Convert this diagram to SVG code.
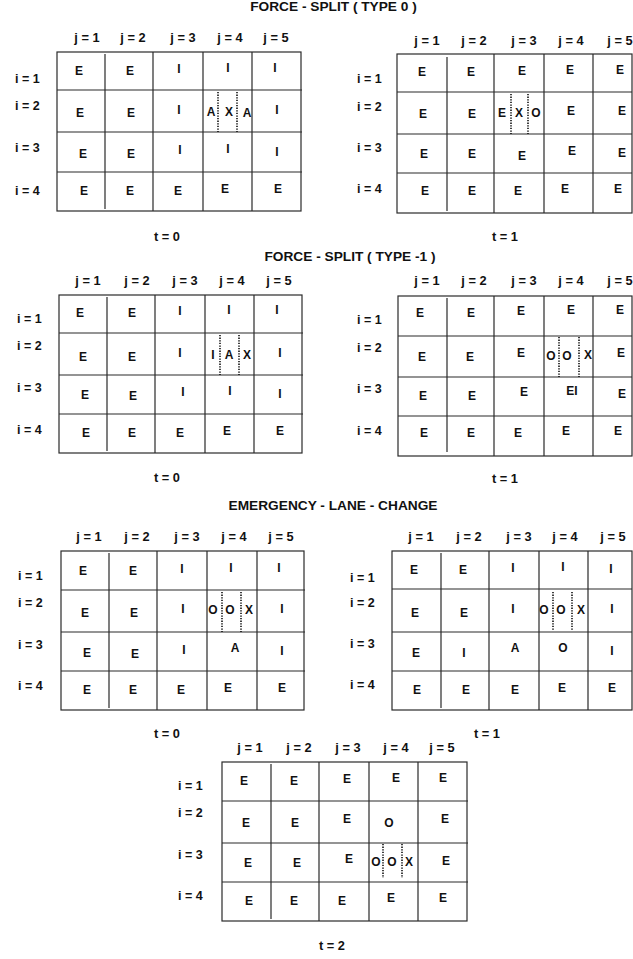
<svg xmlns="http://www.w3.org/2000/svg" width="633" height="959" viewBox="0 0 633 959">
<style>
.bg{fill:#fff}
.g{fill:none;stroke:#2a2a2a;stroke-width:1.2}
.d{stroke:#111;stroke-width:1.6;stroke-dasharray:1.3 1.3}
text{font-family:"Liberation Sans",Arial,Helvetica,sans-serif;font-weight:bold;fill:#111}
.c{font-size:12px;text-anchor:middle}
.h{font-size:12.8px;text-anchor:middle}
.r{font-size:12.5px}
.ti{font-size:13.7px;text-anchor:middle}
</style>
<rect class="bg" x="0" y="0" width="633" height="959"/>

<text class="ti" x="333.5" y="11">FORCE - SPLIT ( TYPE 0 )</text>
<text class="ti" x="350" y="261">FORCE - SPLIT ( TYPE -1 )</text>
<text class="ti" x="333" y="510">EMERGENCY - LANE - CHANGE</text>

<!-- Grid 1 -->
<g id="fs0-t0">
<rect class="g" x="57" y="52" width="244" height="159"/>
<path class="g" d="M57 90H302M57 132H302M57 172H302M105 54V209M153 52V211M203 52V211M252 52V211"/>
<path class="d" d="M218 92V132M237 92V132"/>
<text class="h" x="87" y="42">j = 1</text><text class="h" x="133" y="42">j = 2</text><text class="h" x="183" y="42">j = 3</text><text class="h" x="230" y="42">j = 4</text><text class="h" x="276" y="42">j = 5</text>
<text class="r" x="15" y="83">i = 1</text><text class="r" x="15" y="110">i = 2</text><text class="r" x="15" y="152">i = 3</text><text class="r" x="15" y="195">i = 4</text>
<text class="c" x="79" y="75">E</text><text class="c" x="130" y="75">E</text><text class="c" x="179" y="73">I</text><text class="c" x="228" y="72">I</text><text class="c" x="275" y="72">I</text>
<text class="c" x="80" y="117">E</text><text class="c" x="131" y="117">E</text><text class="c" x="179" y="114">I</text><text class="c" x="211" y="116">A</text><text class="c" x="229" y="116">X</text><text class="c" x="247" y="117">A</text><text class="c" x="277" y="114">I</text>
<text class="c" x="83" y="158">E</text><text class="c" x="131" y="158">E</text><text class="c" x="180" y="154">I</text><text class="c" x="228" y="153">I</text><text class="c" x="277" y="156">I</text>
<text class="c" x="84" y="195">E</text><text class="c" x="130" y="195">E</text><text class="c" x="178" y="195">E</text><text class="c" x="225" y="193">E</text><text class="c" x="278" y="193">E</text>
<text class="h" x="167" y="241">t = 0</text>
</g>

<!-- Grid 2 -->
<g id="fs0-t1">
<rect class="g" x="397" y="54" width="235" height="159"/>
<path class="g" d="M397 92H632M397 134H632M397 173H632M447 57V211M494 54V213M544 54V213M593 54V213"/>
<path class="d" d="M511 94V134M528 94V134"/>
<text class="h" x="427" y="45">j = 1</text><text class="h" x="474" y="45">j = 2</text><text class="h" x="524" y="45">j = 3</text><text class="h" x="571" y="45">j = 4</text><text class="h" x="620" y="45">j = 5</text>
<text class="r" x="357" y="83">i = 1</text><text class="r" x="357" y="111">i = 2</text><text class="r" x="357" y="152">i = 3</text><text class="r" x="357" y="193">i = 4</text>
<text class="c" x="422" y="76">E</text><text class="c" x="471" y="76">E</text><text class="c" x="522" y="75">E</text><text class="c" x="570" y="74">E</text><text class="c" x="620" y="74">E</text>
<text class="c" x="423" y="118">E</text><text class="c" x="472" y="118">E</text><text class="c" x="502" y="117">E</text><text class="c" x="519" y="117">X</text><text class="c" x="536" y="117">O</text><text class="c" x="571" y="115">E</text><text class="c" x="622" y="115">E</text>
<text class="c" x="424" y="158">E</text><text class="c" x="472" y="158">E</text><text class="c" x="522" y="160">E</text><text class="c" x="572" y="155">E</text><text class="c" x="622" y="157">E</text>
<text class="c" x="425" y="195">E</text><text class="c" x="472" y="195">E</text><text class="c" x="518" y="195">E</text><text class="c" x="565" y="193">E</text><text class="c" x="618" y="193">E</text>
<text class="h" x="505" y="241">t = 1</text>
</g>

<!-- Grid 3 -->
<g id="fsm1-t0">
<rect class="g" x="59" y="295" width="243" height="158"/>
<path class="g" d="M59 333H303M59 375H303M59 414H303M107 297V451M155 295V453M205 295V453M254 295V453"/>
<path class="d" d="M220 335V375M239 335V375"/>
<text class="h" x="88" y="285">j = 1</text><text class="h" x="137" y="285">j = 2</text><text class="h" x="185" y="285">j = 3</text><text class="h" x="232" y="285">j = 4</text><text class="h" x="279" y="285">j = 5</text>
<text class="r" x="17" y="323">i = 1</text><text class="r" x="17" y="350">i = 2</text><text class="r" x="17" y="392">i = 3</text><text class="r" x="17" y="434">i = 4</text>
<text class="c" x="80" y="317">E</text><text class="c" x="132" y="317">E</text><text class="c" x="180" y="315">I</text><text class="c" x="229" y="314">I</text><text class="c" x="277" y="314">I</text>
<text class="c" x="83" y="361">E</text><text class="c" x="132" y="361">E</text><text class="c" x="180" y="357">I</text><text class="c" x="213" y="359">I</text><text class="c" x="229" y="359">A</text><text class="c" x="247" y="359">X</text><text class="c" x="280" y="357">I</text>
<text class="c" x="85" y="399">E</text><text class="c" x="133" y="400">E</text><text class="c" x="183" y="396">I</text><text class="c" x="230" y="395">I</text><text class="c" x="280" y="398">I</text>
<text class="c" x="86" y="437">E</text><text class="c" x="132" y="437">E</text><text class="c" x="180" y="437">E</text><text class="c" x="227" y="435">E</text><text class="c" x="280" y="435">E</text>
<text class="h" x="167" y="482">t = 0</text>
</g>

<!-- Grid 4 -->
<g id="fsm1-t1">
<rect class="g" x="398" y="296" width="234" height="160"/>
<path class="g" d="M398 336H632M398 377H632M398 416H632M447 298V452M494 296V456M544 296V456M593 296V456"/>
<path class="d" d="M559 337V377M579 337V377"/>
<text class="h" x="427" y="285">j = 1</text><text class="h" x="474" y="285">j = 2</text><text class="h" x="524" y="285">j = 3</text><text class="h" x="571" y="285">j = 4</text><text class="h" x="620" y="285">j = 5</text>
<text class="r" x="357" y="324">i = 1</text><text class="r" x="357" y="352">i = 2</text><text class="r" x="357" y="393">i = 3</text><text class="r" x="357" y="435">i = 4</text>
<text class="c" x="420" y="317">E</text><text class="c" x="471" y="317">E</text><text class="c" x="521" y="315">E</text><text class="c" x="571" y="314">E</text><text class="c" x="620" y="314">E</text>
<text class="c" x="422" y="361">E</text><text class="c" x="470" y="361">E</text><text class="c" x="521" y="357">E</text><text class="c" x="551" y="360">O</text><text class="c" x="567" y="360">O</text><text class="c" x="588" y="359">X</text><text class="c" x="621" y="357">E</text>
<text class="c" x="423" y="400">E</text><text class="c" x="472" y="400">E</text><text class="c" x="524" y="396">E</text><text class="c" x="572" y="395">EI</text><text class="c" x="622" y="398">E</text>
<text class="c" x="424" y="437">E</text><text class="c" x="471" y="437">E</text><text class="c" x="518" y="437">E</text><text class="c" x="566" y="435">E</text><text class="c" x="618" y="435">E</text>
<text class="h" x="505" y="483">t = 1</text>
</g>

<!-- Grid 5 -->
<g id="elc-t0">
<rect class="g" x="61" y="551" width="243" height="159"/>
<path class="g" d="M61 590H305M61 632H305M61 671H305M109 553V708M157 551V710M207 551V710M257 551V710"/>
<path class="d" d="M222 592V632M241 592V632"/>
<text class="h" x="89" y="541">j = 1</text><text class="h" x="137" y="541">j = 2</text><text class="h" x="187" y="541">j = 3</text><text class="h" x="234" y="541">j = 4</text><text class="h" x="281" y="541">j = 5</text>
<text class="r" x="18" y="580">i = 1</text><text class="r" x="18" y="607">i = 2</text><text class="r" x="18" y="649">i = 3</text><text class="r" x="18" y="690">i = 4</text>
<text class="c" x="83" y="575">E</text><text class="c" x="133" y="575">E</text><text class="c" x="182" y="573">I</text><text class="c" x="231" y="572">I</text><text class="c" x="279" y="572">I</text>
<text class="c" x="85" y="617">E</text><text class="c" x="134" y="617">E</text><text class="c" x="183" y="613">I</text><text class="c" x="213" y="614">O</text><text class="c" x="230" y="614">O</text><text class="c" x="249" y="614">X</text><text class="c" x="282" y="613">I</text>
<text class="c" x="87" y="657">E</text><text class="c" x="135" y="658">E</text><text class="c" x="184" y="654">I</text><text class="c" x="235" y="652">A</text><text class="c" x="282" y="655">I</text>
<text class="c" x="87" y="694">E</text><text class="c" x="133" y="694">E</text><text class="c" x="181" y="694">E</text><text class="c" x="228" y="692">E</text><text class="c" x="282" y="692">E</text>
<text class="h" x="167" y="738">t = 0</text>
</g>

<!-- Grid 6 -->
<g id="elc-t1">
<rect class="g" x="392" y="551" width="240" height="159"/>
<path class="g" d="M392 589H632M392 632H632M392 671H632M441 553V708M489 551V710M539 551V710M588 551V710"/>
<path class="d" d="M553 592V631M572 592V631"/>
<text class="h" x="421" y="541">j = 1</text><text class="h" x="469" y="541">j = 2</text><text class="h" x="519" y="541">j = 3</text><text class="h" x="565" y="541">j = 4</text><text class="h" x="613" y="541">j = 5</text>
<text class="r" x="350" y="582">i = 1</text><text class="r" x="350" y="607">i = 2</text><text class="r" x="350" y="648">i = 3</text><text class="r" x="350" y="689">i = 4</text>
<text class="c" x="414" y="574">E</text><text class="c" x="463" y="574">E</text><text class="c" x="513" y="572">I</text><text class="c" x="563" y="571">I</text><text class="c" x="611" y="573">I</text>
<text class="c" x="415" y="617">E</text><text class="c" x="464" y="617">E</text><text class="c" x="513" y="613">I</text><text class="c" x="544" y="614">O</text><text class="c" x="561" y="614">O</text><text class="c" x="581" y="614">X</text><text class="c" x="612" y="613">I</text>
<text class="c" x="416" y="657">E</text><text class="c" x="464" y="657">I</text><text class="c" x="515" y="652">A</text><text class="c" x="563" y="652">O</text><text class="c" x="612" y="655">I</text>
<text class="c" x="417" y="694">E</text><text class="c" x="466" y="694">E</text><text class="c" x="515" y="694">E</text><text class="c" x="562" y="692">E</text><text class="c" x="612" y="692">E</text>
<text class="h" x="487" y="738">t = 1</text>
</g>

<!-- Grid 7 -->
<g id="elc-t2">
<rect class="g" x="222" y="762" width="245" height="159"/>
<path class="g" d="M222 801H468M222 843H468M222 882H468M271 764V919M319 762V921M369 762V921M418 762V921"/>
<path class="d" d="M383 844V878M402 844V878"/>
<text class="h" x="250" y="752">j = 1</text><text class="h" x="299" y="752">j = 2</text><text class="h" x="348" y="752">j = 3</text><text class="h" x="396" y="752">j = 4</text><text class="h" x="442" y="752">j = 5</text>
<text class="r" x="178" y="790">i = 1</text><text class="r" x="178" y="817">i = 2</text><text class="r" x="178" y="859">i = 3</text><text class="r" x="178" y="900">i = 4</text>
<text class="c" x="244" y="785">E</text><text class="c" x="294" y="785">E</text><text class="c" x="347" y="783">E</text><text class="c" x="396" y="782">E</text><text class="c" x="443" y="782">E</text>
<text class="c" x="246" y="827">E</text><text class="c" x="295" y="827">E</text><text class="c" x="347" y="823">E</text><text class="c" x="389" y="827">O</text><text class="c" x="445" y="823">E</text>
<text class="c" x="248" y="867">E</text><text class="c" x="297" y="867">E</text><text class="c" x="349" y="863">E</text><text class="c" x="376" y="866">O</text><text class="c" x="392" y="866">O</text><text class="c" x="409" y="866">X</text><text class="c" x="446" y="865">E</text>
<text class="c" x="249" y="905">E</text><text class="c" x="294" y="905">E</text><text class="c" x="342" y="905">E</text><text class="c" x="391" y="902">E</text><text class="c" x="443" y="902">E</text>
<text class="h" x="332" y="950">t = 2</text>
</g>
</svg>
